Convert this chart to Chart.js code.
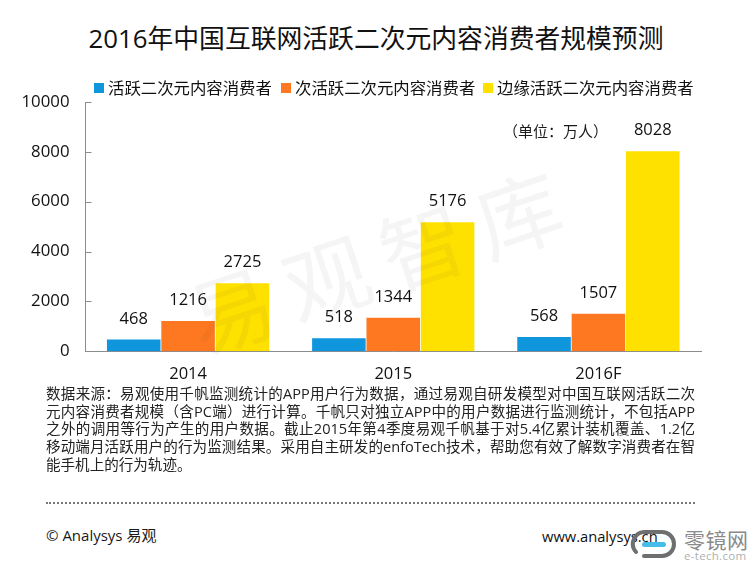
<!DOCTYPE html>
<html lang="zh"><head><meta charset="utf-8">
<script src="https://cdn.jsdelivr.net/npm/chart.js@4"></script>
<style>
html,body{margin:0;padding:0;background:#fff;overflow:hidden}
body{width:754px;height:565px;position:relative;font-family:"Open Sans","Noto Sans CJK SC",sans-serif;color:#1a1a1a}
.t{position:absolute;white-space:nowrap}
#wrap{position:absolute;left:0;top:0;width:754px;height:398px}
#title{left:0;width:752px;text-align:center;top:18px;font-size:25.8px;line-height:40px;color:#111}
#legend{position:absolute;left:94px;top:76px;height:24px;line-height:24px;font-size:16.4px;color:#111;white-space:nowrap}
#legend span{position:absolute;top:0;white-space:nowrap}
#legend i{position:absolute;top:7px;width:10px;height:10px}
#unit{left:503px;top:119px;font-size:15px;line-height:24px}
#note{left:46px;top:385px;width:649px;font-size:14.55px;line-height:17.7px;color:#222}
#note div{white-space:nowrap;text-align:justify;text-align-last:justify}
#note div:last-child{text-align-last:left}
#dots{position:absolute;left:46px;top:502px;width:649px;border-top:2px dotted #777}
#copy{left:46px;top:524px;font-size:15px;line-height:22px}
#web{left:542px;top:525px;font-size:14.7px;line-height:22px;color:#111}
#cn{left:684px;top:527px;font-size:21px;line-height:26px;color:#8a8a8a;letter-spacing:.5px}
#en{left:684px;top:549px;font-size:11.5px;line-height:13px;color:#b0b0b0;letter-spacing:.3px}
svg{position:absolute;left:630px;top:528px}
</style></head><body>
<div class="t" id="title"></div>
<div id="wrap"><canvas id="c"></canvas></div>
<div id="legend"></div>
<div class="t" id="unit"></div>
<div class="t" id="note"></div>
<div id="dots"></div>
<div class="t" id="copy"></div>
<div class="t" id="web"></div>
<svg width="48" height="32" viewBox="0 0 48 32"><path d="M14 28 H32 A12 12 0 0 0 32 4 H14 A12 12 0 0 0 6 24" fill="none" stroke="#6f6f6f" stroke-width="4" stroke-linecap="round"/><rect x="12" y="14" width="24" height="5" rx="2.5" fill="#45bde8"/></svg>
<div class="t" id="cn">零镜网</div>
<div class="t" id="en">e-tech.com</div>
<script>
const chartTitle = "2016年中国互联网活跃二次元内容消费者规模预测";
const categories = ["2014","2015","2016F"];
const seriesNames = ["活跃二次元内容消费者","次活跃二次元内容消费者","边缘活跃二次元内容消费者"];
const activeValues = [468,518,568];
const secondaryValues = [1216,1344,1507];
const marginalValues = [2725,5176,8028];
const seriesColors = ["#0f96dc","#fd7820","#ffe100"];
const yTicks = [0,2000,4000,6000,8000,10000];
const unitText = "（单位：万人）";
const watermark = ["易","观","智","库"];
const noteLines = [
"数据来源：易观使用千帆监测统计的APP用户行为数据，通过易观自研发模型对中国互联网活跃二次",
"元内容消费者规模（含PC端）进行计算。千帆只对独立APP中的用户数据进行监测统计，不包括APP",
"之外的调用等行为产生的用户数据。截止2015年第4季度易观千帆基于对5.4亿累计装机覆盖、1.2亿",
"移动端月活跃用户的行为监测结果。采用自主研发的enfoTech技术，帮助您有效了解数字消费者在智",
"能手机上的行为轨迹。"];
const copyText = "© Analysys 易观";
const siteText = "www.analysys.cn";

document.getElementById("title").textContent = chartTitle;
document.getElementById("unit").textContent = unitText;
document.getElementById("copy").textContent = copyText;
document.getElementById("web").textContent = siteText;
noteLines.forEach(s=>{const d=document.createElement("div");d.textContent=s;document.getElementById("note").appendChild(d);});
const legendStarts=[0,187,389];
seriesNames.forEach((n,i)=>{
  const b=document.createElement("i");b.style.left=legendStarts[i]+"px";b.style.background=seriesColors[i];
  const s=document.createElement("span");s.style.left=(legendStarts[i]+14)+"px";s.textContent=n;
  const L=document.getElementById("legend");L.appendChild(b);L.appendChild(s);
});

const FONT = '"Open Sans","Noto Sans CJK SC",sans-serif';
const labelsPlugin = {
  id:"barLabels",
  afterDatasetsDraw(chart){
    const {ctx}=chart; ctx.save();
    ctx.font='16.5px '+FONT; ctx.fillStyle="#111"; ctx.textAlign="center"; ctx.textBaseline="middle";
    chart.data.datasets.forEach((ds,i)=>{
      chart.getDatasetMeta(i).data.forEach((bar,j)=>{ ctx.fillText(String(ds.data[j]),bar.x,bar.y-20.5); });
    });
    ctx.restore();
  }
};
const ticksPlugin = {
  id:"innerTicks",
  afterDatasetsDraw(chart){
    const {ctx,scales:{y}}=chart; ctx.save();
    ctx.strokeStyle="#8c8c8c"; ctx.lineWidth=1;
    yTicks.forEach(v=>{const p=Math.round(y.getPixelForValue(v))+.5;ctx.beginPath();ctx.moveTo(y.right,p);ctx.lineTo(y.right+6,p);ctx.stroke();});
    ctx.restore();
  }
};
const markPlugin = {
  id:"watermark",
  afterDraw(chart){
    const {ctx}=chart; ctx.save();
    ctx.translate(375,263); ctx.rotate(-18.5*Math.PI/180);
    ctx.font='85px "Noto Sans CJK SC"'; ctx.fillStyle="rgba(60,60,60,0.05)"; ctx.textAlign="center"; ctx.textBaseline="middle";
    watermark.forEach((s,i)=>ctx.fillText(s,(i-1.5)*101,0));
    ctx.restore();
  }
};
Chart.defaults.animation=false;
new Chart(document.getElementById("c"),{
  type:"bar",
  data:{labels:categories,datasets:[
    {label:seriesNames[0],data:activeValues,backgroundColor:seriesColors[0]},
    {label:seriesNames[1],data:secondaryValues,backgroundColor:seriesColors[1]},
    {label:seriesNames[2],data:marginalValues,backgroundColor:seriesColors[2]}
  ].map(d=>Object.assign(d,{categoryPercentage:.795,barPercentage:.985}))},
  options:{
    responsive:true,maintainAspectRatio:false,animation:false,
    layout:{padding:{top:102,right:53,bottom:0,left:0}},
    plugins:{tooltip:{enabled:false},legend:{display:false}},
    scales:{
      x:{grid:{display:false,drawTicks:false},border:{color:"#8c8c8c"},
         ticks:{color:"#111",font:{family:FONT,size:16.5},padding:13.5,maxRotation:0}},
      y:{min:0,max:10000,afterBuildTicks(s){s.ticks=yTicks.map(v=>({value:v}));},
         afterFit(s){s.width=85.5;},
         grid:{display:false,drawTicks:false},border:{color:"#8c8c8c"},
         ticks:{color:"#111",font:{family:FONT,size:16.8},padding:16,callback:v=>String(v)}}
    }
  },
  plugins:[labelsPlugin,ticksPlugin,markPlugin]
});
</script>
</body></html>
